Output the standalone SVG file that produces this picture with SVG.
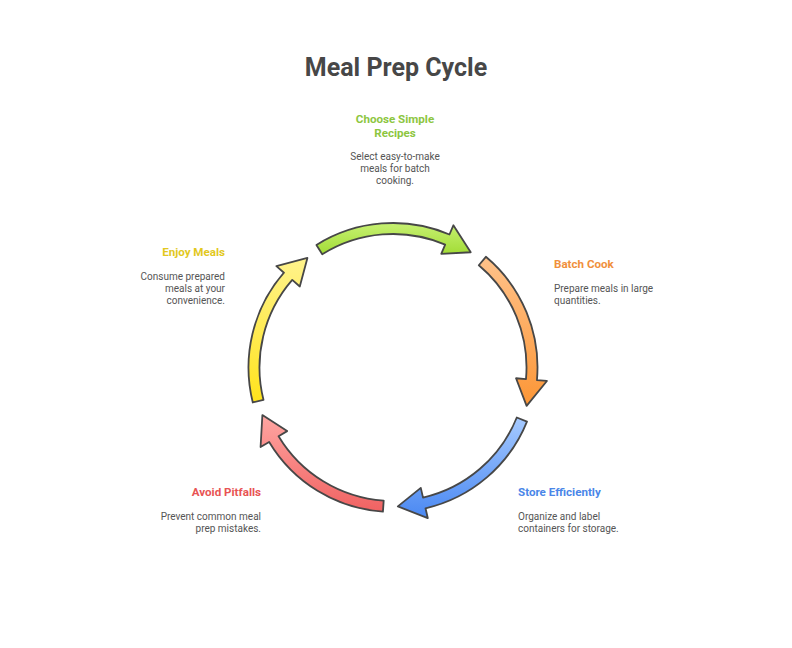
<svg xmlns="http://www.w3.org/2000/svg" width="792" height="648" viewBox="0 0 792 648">
  <style>
    text { font-family: Roboto, "Liberation Sans", Arial, sans-serif; }
    .title { font-size: 25px; font-weight: bold; fill: #474747; text-anchor: middle; }
    .label { font-size: 11.6px; font-weight: bold; }
    .desc { font-size: 10px; fill: #555555; }
    .arrow { stroke: #474747; stroke-width: 1.8; stroke-linejoin: round; }
  </style>
  <defs>
    <linearGradient id="gGreen" x1="0" y1="0" x2="0" y2="1">
      <stop offset="0" stop-color="#c7f172"/>
      <stop offset="1" stop-color="#a2dc36"/>
    </linearGradient>
    <linearGradient id="gOrange" x1="0" y1="0" x2="0" y2="1">
      <stop offset="0" stop-color="#ffc28a"/>
      <stop offset="1" stop-color="#fc9636"/>
    </linearGradient>
    <linearGradient id="gBlue" x1="0" y1="0" x2="0" y2="1">
      <stop offset="0" stop-color="#a6caff"/>
      <stop offset="1" stop-color="#4a88f2"/>
    </linearGradient>
    <linearGradient id="gRed" x1="0" y1="0" x2="0" y2="1">
      <stop offset="0" stop-color="#ffa6a2"/>
      <stop offset="1" stop-color="#f06262"/>
    </linearGradient>
    <linearGradient id="gYellow" x1="0" y1="0" x2="0" y2="1">
      <stop offset="0" stop-color="#fff38c"/>
      <stop offset="1" stop-color="#ffe31c"/>
    </linearGradient>
  </defs>
  <rect width="792" height="648" fill="#ffffff"/>
  <text class="title" x="396" y="76">Meal Prep Cycle</text>

  <g id="connectors">
    <path id="arrow-green" class="arrow" fill="url(#gGreen)" d="M316.43,244.96 A144.5,144.5 0 0 1 449.46,234.49 L453.37,225.28 L470.73,252.26 L441.26,253.82 L445.16,244.61 A133.5,133.5 0 0 0 322.26,254.29 Z"/>
    <path id="arrow-orange" class="arrow" fill="url(#gOrange)" d="M485.88,256.81 A144.5,144.5 0 0 1 536.95,380.09 L546.91,380.97 L526.62,405.81 L516.03,378.26 L525.99,379.14 A133.5,133.5 0 0 0 478.81,265.23 Z"/>
    <path id="arrow-blue" class="arrow" fill="url(#gBlue)" d="M526.98,421.63 A144.5,144.5 0 0 1 425.51,508.30 L427.76,518.04 L397.85,506.42 L420.78,487.84 L423.03,497.58 A133.5,133.5 0 0 0 516.78,417.51 Z"/>
    <path id="arrow-red" class="arrow" fill="url(#gRed)" d="M382.92,511.65 A144.5,144.5 0 0 1 269.14,441.92 L260.57,447.07 L262.38,415.04 L287.14,431.11 L278.57,436.26 A133.5,133.5 0 0 0 383.69,500.67 Z"/>
    <path id="arrow-yellow" class="arrow" fill="url(#gYellow)" d="M252.79,402.46 A144.5,144.5 0 0 1 283.94,272.70 L276.40,266.14 L307.42,257.97 L299.79,286.48 L292.25,279.92 A133.5,133.5 0 0 0 263.47,399.80 Z"/>
  </g>

  <g id="node-choose" text-anchor="middle">
    <text class="label" fill="#8dc63f" x="395" y="123">Choose Simple</text>
    <text class="label" fill="#8dc63f" x="395" y="137">Recipes</text>
    <text class="desc" x="395" y="160">Select easy-to-make</text>
    <text class="desc" x="395" y="172">meals for batch</text>
    <text class="desc" x="395" y="184">cooking.</text>
  </g>

  <g id="node-batch" text-anchor="start">
    <text class="label" fill="#f0903c" x="554" y="268">Batch Cook</text>
    <text class="desc" x="554" y="292">Prepare meals in large</text>
    <text class="desc" x="554" y="304">quantities.</text>
  </g>

  <g id="node-store" text-anchor="start">
    <text class="label" fill="#4a86e8" x="518" y="496">Store Efficiently</text>
    <text class="desc" x="518" y="520">Organize and label</text>
    <text class="desc" x="518" y="532">containers for storage.</text>
  </g>

  <g id="node-avoid" text-anchor="end">
    <text class="label" fill="#e85454" x="261" y="496">Avoid Pitfalls</text>
    <text class="desc" x="261" y="520">Prevent common meal</text>
    <text class="desc" x="261" y="532">prep mistakes.</text>
  </g>

  <g id="node-enjoy" text-anchor="end">
    <text class="label" fill="#e2c81e" x="225" y="256">Enjoy Meals</text>
    <text class="desc" x="225" y="280">Consume prepared</text>
    <text class="desc" x="225" y="292">meals at your</text>
    <text class="desc" x="225" y="304">convenience.</text>
  </g>
</svg>
